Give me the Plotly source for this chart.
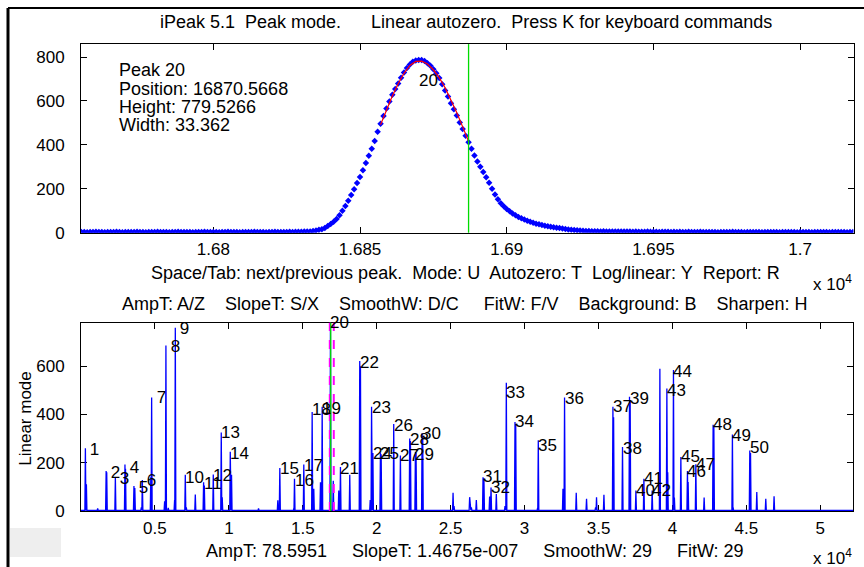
import plotly.graph_objects as go

W = 864
REF_H = 567          # reference picture height (layout positions are given in its pixels)
H = 578              # page height actually photographed
FONT = "Liberation Sans, Arial, sans-serif"

# ---------------- upper (zoomed) window data: peak 20 ----------------
zoom_y = [
    3, 3, 2, 3, 3, 4, 3, 3, 2, 3, 3, 3, 4, 3, 2, 3, 3, 3, 3, 4,
    3, 3, 2, 3, 3, 3, 4, 3, 3, 3, 2, 3, 3, 4, 3, 3, 3, 3, 2, 3,
    3, 3, 4, 3, 3, 3, 3, 2, 3, 3, 4, 3, 3, 3, 2, 3, 3, 3, 3, 4,
    3, 3, 3, 2, 3, 3, 4, 3, 3, 3, 3, 4, 3, 4, 4, 4, 5, 5,
    6, 8, 10, 13, 16, 22, 30, 40, 50, 62, 80, 100, 122, 146, 172, 198,
    226, 254, 284, 318, 350, 382, 418, 460, 496, 532, 566, 598, 628, 654,
    680, 706, 730, 750, 766, 778, 784, 786, 786, 782, 772, 760, 744, 726,
    704, 676, 648, 620, 590, 562, 534, 502, 472, 442, 412, 382, 352, 324,
    300, 276, 252, 228, 200, 174, 152, 134, 120, 108, 98, 88, 80, 72, 66,
    60, 55, 50, 45, 41, 38, 35, 32, 29, 27, 25, 23, 21, 19, 17, 15, 14,
    12, 11, 10, 9, 8, 8, 7,
    7, 7, 6, 7, 6, 6, 6, 5, 6, 5, 5, 5, 5, 4, 5, 4, 4, 4, 5, 4,
    4, 4, 3, 4, 4, 4, 3, 4, 3, 4, 3, 3, 4, 3, 3, 3, 4, 3, 3, 3,
    3, 3, 2, 3, 3, 3, 3, 4, 3, 3, 3, 2, 3, 3, 3, 3, 3, 2, 3, 3,
    3, 3, 3, 2, 3, 3, 3, 3, 3, 2, 3, 3, 3, 3, 2, 3, 3, 3, 3, 3,
    2, 3, 3, 3, 3, 3, 2, 3, 3,
]
zoom_x_start = 16755
zoom_x = list(range(zoom_x_start, zoom_x_start + len(zoom_y)))

fit_x = [16857, 16859, 16861, 16863, 16865, 16867, 16869, 16871, 16873,
         16875, 16877, 16879, 16881, 16883, 16885, 16887]
fit_y = [492, 560, 622, 678, 726, 762, 780, 781, 768, 742, 706, 660, 606,
         546, 482, 416]

zoom_xrange = [16754.9, 17018.2]
zoom_yrange = [0, 859]
cursor_x = 16887
window_marks = [16826, 17095]
zoom_label_y = 695

info_lines = ["Peak 20", "Position: 16870.5668", "Height: 779.5266", "Width: 33.362"]

# ---------------- lower (full) window data ----------------
peak_pos = [297, 1700, 2324, 2973, 3581, 4150, 4777, 5743, 6378, 7054,
            8291, 8946, 9486, 10095, 13446, 14439, 15068, 15633, 16311, 16870.57,
            17547, 18851, 19650, 19740, 20250, 21149, 21601, 22230, 22615, 23068,
            27189, 27730, 28764, 29351, 30926, 32703, 35973, 36622, 37095, 37527,
            38068, 38628, 39622, 40068, 40568, 41014, 41581, 42750, 44054, 45230]
peak_height = [260, 165, 140, 192, 103, 128, 470, 686, 760, 150,
               119, 151, 325, 245, 178, 133, 192, 410, 432, 779.5,
               182, 622, 432, 240, 242, 360, 230, 300, 245, 322,
               140, 97, 532, 369, 293, 470, 432, 265, 474, 85,
               133, 85, 508, 585, 224, 165, 193, 357, 317, 250]
label_height = [255, 161, 133, 182, 99, 126, 469, 680, 755, 140,
                112, 148, 327, 240, 175, 125, 190, 420, 424, 779.5,
                175, 617, 430, 240, 237, 356, 230, 297, 233, 321,
                141, 97, 493, 369, 272, 465, 432, 260, 465, 83,
                136, 83, 500, 580, 224, 163, 193, 359, 314, 262]
peak_labels = [str(n) for n in range(1, 51)]

minor_pos = [365, 1128, 1740, 3010, 3640, 4080, 4720, 5655, 5900, 6330,
             7120, 7730, 8340, 9550, 10180, 12007, 13311, 14400, 15020, 15743,
             16196, 17060, 17432, 18176, 18900, 19560, 20300, 22280, 22660, 23110,
             25162, 25230, 26284, 26400, 26736, 27250, 27635, 28088, 28675, 29400,
             30880, 32595, 33493, 34189, 34800, 34865, 35365, 36020, 37140, 39149,
             39680, 40130, 41060, 42142, 42800, 44100, 45280, 45703, 46311, 46872]
minor_height = [110, 10, 160, 175, 95, 15, 140, 40, 12, 45,
                15, 68, 105, 57, 150, 10, 44, 12, 18, 92,
                119, 125, 85, 150, 600, 45, 235, 290, 240, 310,
                75, 20, 57, 15, 45, 135, 60, 70, 20, 360,
                12, 92, 75, 50, 15, 57, 67, 388, 460, 590,
                160, 55, 120, 55, 350, 15, 240, 78, 50, 61]
baseline_level = 2
full_xrange = [0, 52230]
full_yrange = [0, 780]

# build the full signal trace from the peak list
peaks_all = sorted(zip(peak_pos + minor_pos, peak_height + minor_height))
half_w = 35
sig_x = [full_xrange[0]]
sig_y = [baseline_level]
for p, h in peaks_all:
    sig_x += [p - half_w, p, p + half_w]
    sig_y += [baseline_level, h, baseline_level]
sig_x.append(full_xrange[1])
sig_y.append(baseline_level)

BLUE = "rgb(0,0,255)"

fig = go.Figure()
fig.add_trace(go.Scatter(x=zoom_x, y=zoom_y, mode="markers",
                         marker=dict(symbol="diamond", size=5, color=BLUE, line=dict(width=0)),
                         xaxis="x", yaxis="y", showlegend=False, hoverinfo="skip"))
fig.add_trace(go.Scatter(x=fit_x, y=fit_y, mode="lines",
                         line=dict(color="red", width=1.2),
                         xaxis="x", yaxis="y", showlegend=False, hoverinfo="skip"))
fig.add_trace(go.Scatter(x=sig_x, y=sig_y, mode="lines",
                         line=dict(color=BLUE, width=1.3),
                         xaxis="x2", yaxis="y2", showlegend=False, hoverinfo="skip"))


def px(xp):
    return xp / W


def py(yp):
    return 1 - yp / REF_H


shapes = []
shapes.append(dict(type="line", xref="x", yref="y domain", x0=cursor_x, x1=cursor_x,
                   y0=0, y1=1, line=dict(color="rgb(0,220,0)", width=1.3)))
for xv in window_marks:
    shapes.append(dict(type="line", xref="x2", yref="y2 domain", x0=xv, x1=xv,
                       y0=0, y1=1, line=dict(color="rgb(255,0,255)", width=2, dash="dash")))
shapes.append(dict(type="line", xref="x2", yref="y2 domain", x0=cursor_x, x1=cursor_x,
                   y0=0, y1=1, line=dict(color="rgb(0,220,0)", width=1.3)))
shapes.append(dict(type="line", xref="paper", yref="paper", x0=px(8), x1=1, y0=py(8), y1=py(8),
                   line=dict(color="black", width=2)))
shapes.append(dict(type="line", xref="paper", yref="paper", x0=px(8), x1=px(8), y0=0, y1=py(8),
                   line=dict(color="black", width=3)))
shapes.append(dict(type="rect", xref="paper", yref="paper", x0=px(10), x1=px(61),
                   y0=py(556), y1=py(527), fillcolor="rgb(238,238,238)",
                   line=dict(width=0), layer="below"))

TXT = dict(family=FONT, size=18, color="black")
LAB = dict(family=FONT, size=17, color="black")
ann = []
ann.append(dict(text="iPeak 5.1\u00a0 Peak mode.\u00a0\u00a0\u00a0\u00a0\u00a0 Linear autozero.\u00a0 Press K for keyboard commands",
                xref="paper", yref="paper", x=px(466), y=py(22), showarrow=False,
                xanchor="center", yanchor="middle", font=TXT))
for i, line in enumerate(info_lines):
    ann.append(dict(text=line, xref="paper", yref="paper", x=px(117), y=py(70 + 18.4 * i),
                    showarrow=False, xanchor="left", yanchor="middle", font=TXT))
ann.append(dict(text="20", xref="x", yref="y", x=peak_pos[19], y=zoom_label_y, showarrow=False,
                xanchor="left", yanchor="middle", font=LAB, xshift=-3))
ann.append(dict(text="Space/Tab: next/previous peak.\u00a0 Mode: U\u00a0 Autozero: T\u00a0 Log/linear: Y\u00a0 Report: R",
                xref="paper", yref="paper", x=px(465), y=py(273), showarrow=False,
                xanchor="center", yanchor="middle", font=TXT))
ann.append(dict(text="AmpT: A/Z\u00a0\u00a0\u00a0 SlopeT: S/X\u00a0\u00a0\u00a0 SmoothW: D/C\u00a0\u00a0\u00a0\u00a0 FitW: F/V\u00a0\u00a0\u00a0 Background: B\u00a0\u00a0\u00a0 Sharpen: H",
                xref="paper", yref="paper", x=px(465), y=py(303), showarrow=False,
                xanchor="center", yanchor="middle", font=TXT))
ann.append(dict(text="AmpT: 78.5951\u00a0\u00a0\u00a0\u00a0 SlopeT: 1.4675e-007\u00a0\u00a0\u00a0\u00a0 SmoothW: 29\u00a0\u00a0\u00a0\u00a0 FitW: 29",
                xref="paper", yref="paper", x=px(475), y=py(550), showarrow=False,
                xanchor="center", yanchor="middle", font=TXT))
for ycen in (283, 556):
    ann.append(dict(text="x 10<sup>4</sup>", xref="paper", yref="paper", x=px(811), y=py(ycen),
                    showarrow=False, xanchor="left", yanchor="middle", font=LAB))
ann.append(dict(text="Linear mode", xref="paper", yref="paper", x=px(26), y=py(418), showarrow=False,
                textangle=-90, xanchor="center", yanchor="middle", font=LAB))
for lab, xp, yl in zip(peak_labels, peak_pos, label_height):
    t = lab if len(lab) > 1 else "\u00a0" + lab
    ann.append(dict(text=t, xref="x2", yref="y2", x=xp, y=yl, showarrow=False,
                    xanchor="left", yanchor="middle", font=LAB, xshift=-2))

axis_common = dict(showline=True, linecolor="black", linewidth=1, mirror="allticks",
                   ticks="inside", ticklen=6, tickcolor="black", tickwidth=1,
                   showgrid=False, zeroline=False, layer="below traces",
                   tickfont=LAB, fixedrange=True)

fig.update_layout(
    width=W, height=H, margin=dict(l=0, r=0, t=0, b=0), autosize=False,
    paper_bgcolor="white", plot_bgcolor="white",
    font=dict(family=FONT, size=17, color="black"),
    xaxis=dict(domain=[px(81), px(853.5)], range=zoom_xrange, anchor="y",
               tickvals=[16800, 16850, 16900, 16950, 17000],
               ticktext=["1.68", "1.685", "1.69", "1.695", "1.7"],
               ticklabelstandoff=1, **axis_common),
    yaxis=dict(domain=[py(232.3), py(44)], range=zoom_yrange, anchor="x",
               tickvals=[0, 200, 400, 600, 800], ticklabelstandoff=12, **axis_common),
    xaxis2=dict(domain=[px(81), px(853.3)], range=full_xrange, anchor="y2",
                tickvals=[5000, 10000, 15000, 20000, 25000, 30000, 35000, 40000, 45000, 50000],
                ticktext=["0.5", "1", "1.5", "2", "2.5", "3", "3.5", "4", "4.5", "5"],
                ticklabelstandoff=2, **axis_common),
    yaxis2=dict(domain=[py(510), py(322.3)], range=full_yrange, anchor="x2",
                tickvals=[0, 200, 400, 600], ticklabelstandoff=12, **axis_common),
    shapes=shapes, annotations=ann,
)

fig.write_html("out.html", include_plotlyjs=True,
               config={"displayModeBar": False, "responsive": False},
               post_script="document.documentElement.style.overflow='hidden';"
                           "document.body.style.margin='0';document.body.style.overflow='hidden';")
